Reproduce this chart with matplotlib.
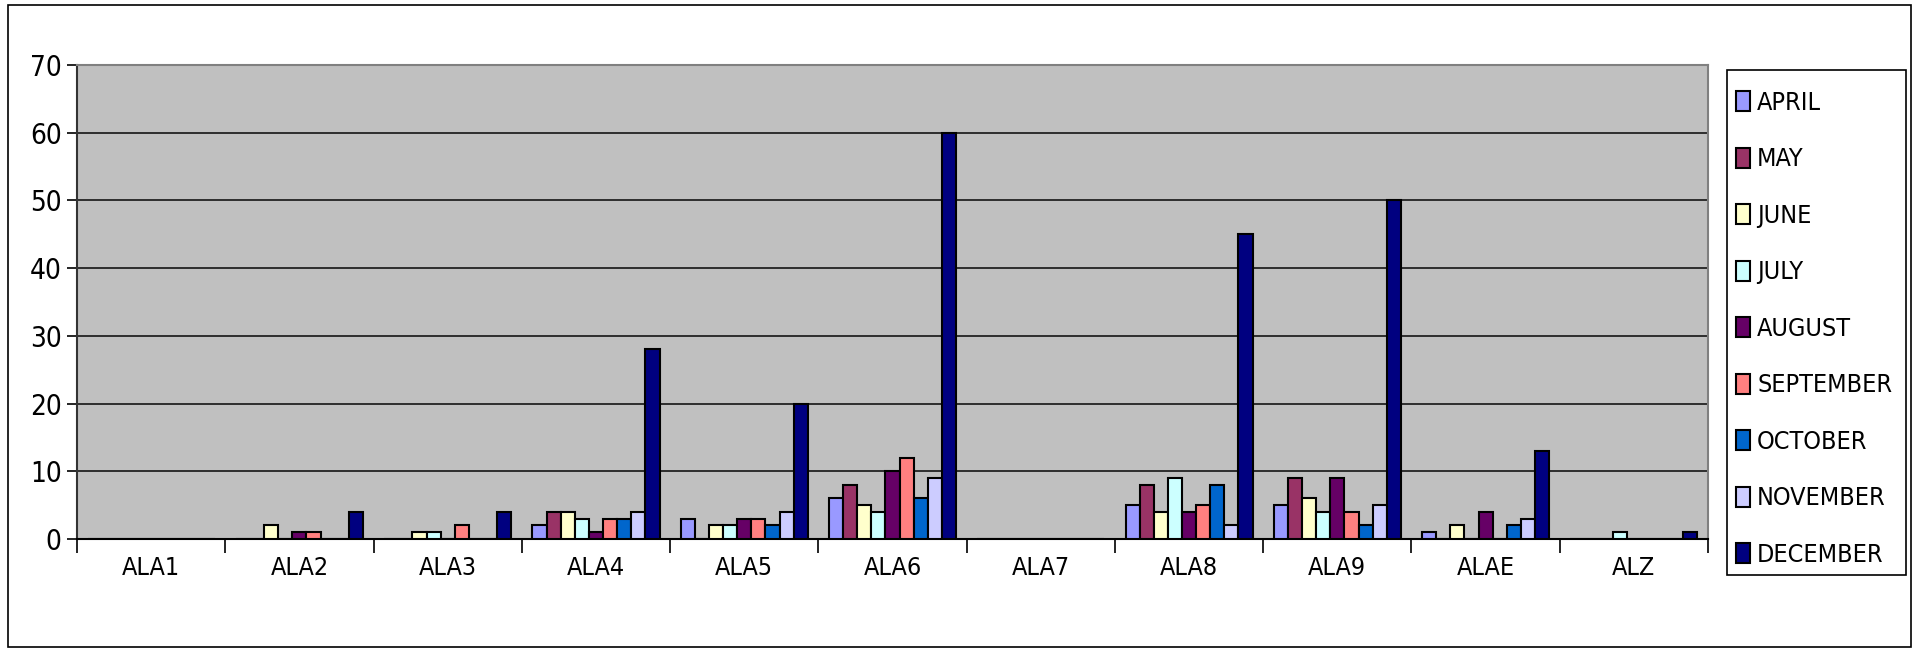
import matplotlib
matplotlib.use("Agg")
import matplotlib.pyplot as plt
import numpy as np
from matplotlib.patches import Rectangle

categories = ["ALA1", "ALA2", "ALA3", "ALA4", "ALA5", "ALA6", "ALA7", "ALA8", "ALA9", "ALAE", "ALZ"]
months = ["APRIL", "MAY", "JUNE", "JULY", "AUGUST", "SEPTEMBER", "OCTOBER", "NOVEMBER", "DECEMBER"]

april     = [0, 0, 0, 2, 3, 6, 0, 5, 5, 1, 0]
may       = [0, 0, 0, 4, 0, 8, 0, 8, 9, 0, 0]
june      = [0, 2, 1, 4, 2, 5, 0, 4, 6, 2, 0]
july      = [0, 0, 1, 3, 2, 4, 0, 9, 4, 0, 1]
august    = [0, 1, 0, 1, 3, 10, 0, 4, 9, 4, 0]
september = [0, 1, 2, 3, 3, 12, 0, 5, 4, 0, 0]
october   = [0, 0, 0, 3, 2, 6, 0, 8, 2, 2, 0]
november  = [0, 0, 0, 4, 4, 9, 0, 2, 5, 3, 0]
december  = [0, 4, 4, 28, 20, 60, 0, 45, 50, 13, 1]

series = [april, may, june, july, august, september, october, november, december]
colors = ["#9999FF", "#993366", "#FFFFCC", "#CCFFFF", "#660066", "#FF8080", "#0066CC", "#CCCCFF", "#000080"]

plt.rcParams['font.family'] = ["DejaVu Sans"]
plt.rcParams['font.stretch'] = "condensed"

W, H = 1917, 649
fig = plt.figure(figsize=(W / 100, H / 100), dpi=100)
fig.patch.set_facecolor("white")
fig.patches.append(Rectangle((8 / W, 1 - 647 / H), (1911 - 8) / W, (647 - 5) / H,
                             transform=fig.transFigure, fill=False, edgecolor="black", lw=1.2))
# legend box
fig.patches.append(Rectangle((1727 / W, 1 - 575 / H), (1906 - 1727) / W, (575 - 70) / H,
                             transform=fig.transFigure, fill=False, edgecolor="black", lw=1.2))

ax = fig.add_axes([77 / W, 1 - 539 / H, (1708 - 77) / W, (539 - 65) / H])
ax.set_facecolor("#C0C0C0")

n = len(months)
x = np.arange(len(categories))
bw = 1.0 / (n + 1.5)
for i, (vals, c, m) in enumerate(zip(series, colors, months)):
    offs = (i - (n - 1) / 2) * bw
    ax.bar(x + offs, vals, width=bw, color=c, edgecolor="black", linewidth=1.5, label=m, zorder=3)

ax.set_xlim(-0.5, len(categories) - 0.5)
ax.set_ylim(0, 70)
ax.set_yticks(np.arange(0, 71, 10))
ax.yaxis.grid(True, color="#222222", lw=1.3, zorder=1)
ax.set_axisbelow(True)

ax.set_xticks(x)
ax.set_xticklabels(categories, fontsize=18)
ax.set_xticks(np.arange(-0.5, len(categories), 1), minor=True)
ax.tick_params(axis="x", which="major", length=0, pad=12)
ax.tick_params(axis="x", which="minor", length=10, width=1.2, color="black", direction="out")
ax.tick_params(axis="y", labelsize=20, length=7, width=1.2, direction="out", pad=4)

for s in ["top", "right"]:
    ax.spines[s].set_color("#808080")
    ax.spines[s].set_linewidth(1.5)
ax.spines["left"].set_color("#333333")
ax.spines["left"].set_linewidth(1.5)
ax.spines["bottom"].set_color("black")
ax.spines["bottom"].set_linewidth(1.5)

leg = fig.legend(loc="upper left", bbox_to_anchor=(1727 / W, 1 - 82 / H), fontsize=18,
                 frameon=False, labelspacing=1.3,
                 handlelength=0.55, handleheight=0.85, handletextpad=0.3, borderpad=0.35,
                 borderaxespad=0)

fig.savefig("out.png", dpi=100)
